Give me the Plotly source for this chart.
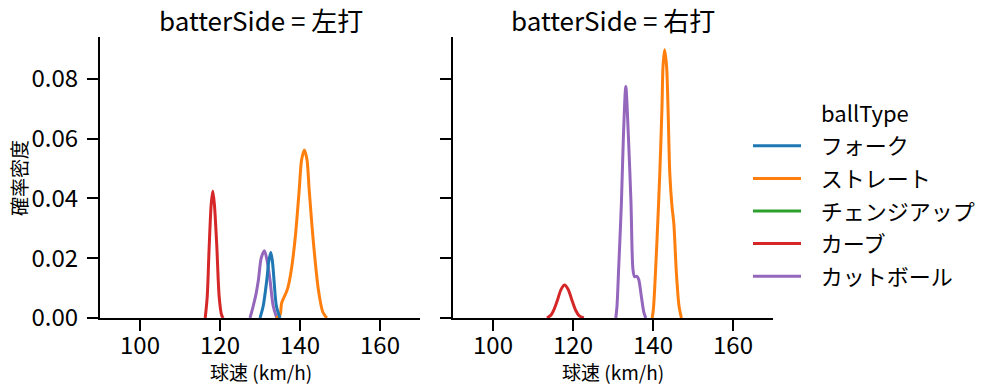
import plotly.graph_objects as go

FONT = "Noto Sans CJK JP"
W, H = 999, 391

ball_types = ["フォーク", "ストレート", "チェンジアップ", "カーブ", "カットボール"]
colors = ["#1f77b4", "#ff7f0e", "#2ca02c", "#d62728", "#9467bd"]
panels = ["左打", "右打"]
x_ticks = [100, 120, 140, 160]
y_ticks = [0.00, 0.02, 0.04, 0.06, 0.08]

# KDE curves (speed km/h, density)
left_fork_x = [130.0, 130.8, 131.7, 132.2, 132.7, 133.1, 133.5, 134.1, 135.0]
left_fork_y = [0.0, 0.004, 0.0127, 0.019, 0.0219, 0.019, 0.0127, 0.004, 0.0]
left_straight_x = [134.0, 135.0, 135.4, 136.8, 137.7, 138.75, 139.8, 140.4, 141.1, 141.75, 142.3, 143.3, 144.6, 145.7, 146.7]
left_straight_y = [0.0, 0.001, 0.005, 0.0094, 0.015, 0.0261, 0.0428, 0.0529, 0.0562, 0.0529, 0.0428, 0.0261, 0.0094, 0.002, 0.0]
left_curve_x = [116.3, 116.8, 117.3, 117.8, 118.2, 118.6, 119.2, 119.8, 120.4, 120.8]
left_curve_y = [0.0, 0.007, 0.024, 0.038, 0.0425, 0.038, 0.024, 0.007, 0.001, 0.0]
left_cutter_x = [127.5, 128.3, 129.0, 129.6, 130.3, 131.1, 131.8, 132.5, 133.3, 134.2]
left_cutter_y = [0.0, 0.004, 0.008, 0.0127, 0.020, 0.0225, 0.019, 0.0127, 0.004, 0.0]

right_straight_x = [139.8, 140.1, 140.4, 141.0, 141.7, 142.25, 142.5, 142.9, 143.4, 143.75, 144.2, 144.75, 145.2, 145.85, 146.5, 147.1]
right_straight_y = [0.0, 0.003, 0.0094, 0.0261, 0.0484, 0.0707, 0.0841, 0.0897, 0.0841, 0.0707, 0.0484, 0.0373, 0.0317, 0.015, 0.004, 0.0]
right_curve_x = [113.5, 114.5, 115.3, 116.0, 117.0, 117.9, 118.8, 119.85, 120.7, 121.5, 122.7]
right_curve_y = [0.0, 0.001, 0.003, 0.0055, 0.0095, 0.011, 0.0095, 0.0055, 0.0025, 0.0008, 0.0]
right_cutter_x = [130.7, 131.0, 131.4, 132.1, 132.6, 133.2, 133.85, 134.5, 135.0, 135.4, 135.9, 136.4, 137.1, 137.7, 138.2]
right_cutter_y = [0.0, 0.004, 0.0161, 0.0384, 0.0607, 0.0774, 0.0607, 0.0384, 0.0161, 0.0138, 0.0140, 0.0130, 0.0071, 0.002, 0.0]

curves = {
    ("左打", "フォーク"): (left_fork_x, left_fork_y),
    ("左打", "ストレート"): (left_straight_x, left_straight_y),
    ("左打", "カーブ"): (left_curve_x, left_curve_y),
    ("左打", "カットボール"): (left_cutter_x, left_cutter_y),
    ("右打", "ストレート"): (right_straight_x, right_straight_y),
    ("右打", "カーブ"): (right_curve_x, right_curve_y),
    ("右打", "カットボール"): (right_cutter_x, right_cutter_y),
}

fig = go.Figure()

# draw in reverse hue order so the first level is on top (seaborn style)
for pi, side in enumerate(panels):
    xa = "x" if pi == 0 else "x2"
    ya = "y" if pi == 0 else "y2"
    for bi in reversed(range(len(ball_types))):
        bt = ball_types[bi]
        if (side, bt) not in curves:
            continue
        xs, ys = curves[(side, bt)]
        fig.add_trace(go.Scatter(
            x=xs, y=ys, xaxis=xa, yaxis=ya, mode="lines",
            line=dict(color=colors[bi], width=3, shape="spline", smoothing=0.8),
            showlegend=False, hoverinfo="skip"))

# legend entries
NB = "\u00a0"
for bi, bt in enumerate(ball_types):
    fig.add_trace(go.Scatter(
        x=[None], y=[None], mode="lines", name=NB * 3 + bt,
        line=dict(color=colors[bi], width=3),
        legendgroup=bt, legendrank=bi + 1, showlegend=True))

def px_x(p):
    return p / W

def px_y(p):
    return 1 - p / H

axis_common = dict(
    showline=True, linecolor="black", linewidth=2,
    ticks="outside", ticklen=11, tickwidth=2, tickcolor="black",
    showgrid=False, zeroline=False, automargin=False,
    tickfont=dict(family=FONT, size=24, color="black"),
)

fig.update_layout(
    width=W, height=H, autosize=False,
    margin=dict(l=0, r=0, t=0, b=0, pad=0, autoexpand=False),
    paper_bgcolor="white", plot_bgcolor="white",
    font=dict(family=FONT, color="black"),
    xaxis=dict(domain=[px_x(100), px_x(420)], range=[90, 170], tickvals=x_ticks,
               anchor="y", ticklabelstandoff=-6, **axis_common),
    yaxis=dict(domain=[px_y(318), px_y(37)], range=[0, 0.094], tickvals=y_ticks,
               tickformat=".2f", anchor="x", ticklabelstandoff=4, **axis_common),
    xaxis2=dict(domain=[px_x(453), px_x(773)], range=[90, 170], tickvals=x_ticks,
                anchor="y2", ticklabelstandoff=-6, **axis_common),
    yaxis2=dict(domain=[px_y(318), px_y(37)], range=[0, 0.094], tickvals=y_ticks,
                showticklabels=False, anchor="x2", **axis_common),
    legend=dict(x=px_x(748), y=px_y(125), xanchor="left", yanchor="top",
                font=dict(family=FONT, size=22, color="black"),
                tracegroupgap=1, bgcolor="rgba(0,0,0,0)", itemwidth=48),
    showlegend=True,
)

annotations = [
    dict(text="batterSide = 左打", x=px_x(261), y=px_y(20), xref="paper", yref="paper",
         showarrow=False, font=dict(family=FONT, size=26, color="black"),
         xanchor="center", yanchor="middle"),
    dict(text="batterSide = 右打", x=px_x(613), y=px_y(20), xref="paper", yref="paper",
         showarrow=False, font=dict(family=FONT, size=26, color="black"),
         xanchor="center", yanchor="middle"),
    dict(text="球速 (km/h)", x=px_x(261), y=px_y(371), xref="paper", yref="paper",
         showarrow=False, font=dict(family=FONT, size=19, color="black"),
         xanchor="center", yanchor="middle"),
    dict(text="球速 (km/h)", x=px_x(613), y=px_y(371), xref="paper", yref="paper",
         showarrow=False, font=dict(family=FONT, size=19, color="black"),
         xanchor="center", yanchor="middle"),
    dict(text="確率密度", x=px_x(18), y=px_y(178), xref="paper", yref="paper",
         showarrow=False, textangle=-90, font=dict(family=FONT, size=19, color="black"),
         xanchor="center", yanchor="middle"),
    dict(text="ballType", x=px_x(865), y=px_y(112), xref="paper", yref="paper",
         showarrow=False, font=dict(family=FONT, size=22, color="black"),
         xanchor="center", yanchor="middle"),
]
fig.update_layout(annotations=annotations)

fig.write_html("out.html", config={"displayModeBar": False},
               post_script="document.body.style.margin='0px';document.body.style.overflow='hidden';")
